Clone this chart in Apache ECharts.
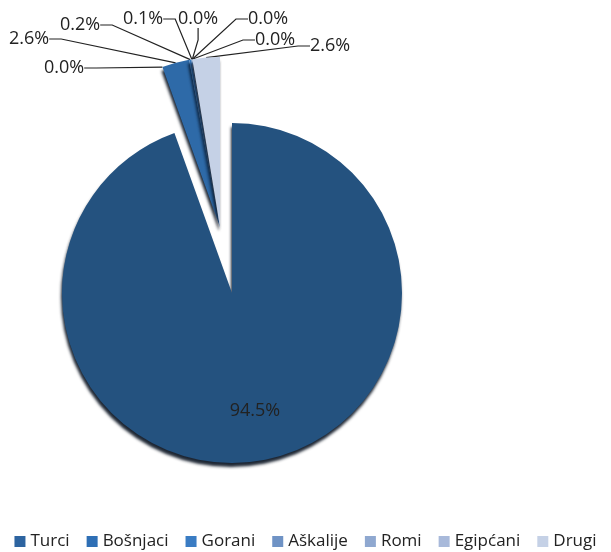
<!DOCTYPE html>
<html>
<head>
<meta charset="utf-8">
<script src="https://cdn.jsdelivr.net/npm/echarts@6/dist/echarts.min.js"></script>
<style>html,body{margin:0;padding:0;background:#fff}#c{width:611px;height:552px}</style>
</head>
<body>
<div id="c"></div>
<script>
var categories = ['Turci','Albanci','Bošnjaci','Gorani','Aškalije','Romi','Egipćani','Srbi','Drugi'];
var values = [94.5, 0.0, 2.6, 0.2, 0.1, 0.0, 0.0, 0.0, 2.6];
var legendNames = ['Turci','Bošnjaci','Gorani','Aškalije','Romi','Egipćani','Drugi'];

var sliceColors = {
  'Turci':'#24527f','Albanci':'#1d3f63','Bošnjaci':'#2e6aa8','Gorani':'#3a7cc3',
  'Aškalije':'#6f93c5','Romi':'#8fa8d0','Egipćani':'#a8b9da','Srbi':'#b8c5e0','Drugi':'#c5d1e6'
};
var legendColors = {
  'Turci':'#2d64a0','Bošnjaci':'#2e6fb5','Gorani':'#3a7cc3','Aškalije':'#6f93c5',
  'Romi':'#8fa8d0','Egipćani':'#a8b9da','Drugi':'#c5d1e6'
};
// label placement (anchor x, middle y, align)
var labelPos = [
  [255,411,'center'],[44,68,'left'],[9,39,'left'],[60,25,'left'],[123,19,'left'],
  [178,19,'left'],[248,19,'left'],[255,40,'left'],[310,46,'left']
];

// the main slice sits on one pie, the exploded small slices on a second pie
// whose centre is pushed out along the small group's bisector
var mainCenter = [232,293];
var explodedCenter = [220,227];
var R = 170;
var FONT = 'Open Sans';

function buildData(showMain){
  return categories.map(function(n,i){
    var visible = showMain ? i === 0 : i > 0;
    return {
      name:n, value:values[i],
      itemStyle: visible ? {color:sliceColors[n]} : {color:sliceColors[n], opacity:0, shadowBlur:0, shadowOffsetX:0, shadowOffsetY:0},
      label: visible ? (i===0 ? {show:true, position:'inside'} : {show:true}) : {show:false},
      labelLine: {show: visible && i>0}
    };
  });
}

var common = {
  type:'pie',
  radius:R,
  startAngle:90,
  clockwise:true,
  avoidLabelOverlap:false,
  silent:true,
  itemStyle:{
    borderWidth:0,
    shadowColor:'rgba(5,15,30,0.9)', shadowBlur:3, shadowOffsetX:-1, shadowOffsetY:4
  },
  label:{
    fontFamily:FONT, fontSize:18, color:'#222',
    formatter:function(p){return p.value.toFixed(1)+'%';}
  },
  labelLine:{length:10, length2:12, lineStyle:{color:'#222', width:1.2}},
  labelLayout:function(p){
    var lp = labelPos[p.dataIndex];
    return {x:lp[0], y:lp[1], align:lp[2], verticalAlign:'middle'};
  },
  emphasis:{disabled:true}
};

var chart = echarts.init(document.getElementById('c'), null, {renderer:'canvas'});
chart.setOption({
  animation:false,
  legend:{
    data: legendNames.map(function(n){
      return {name:n, itemStyle:{color:legendColors[n], opacity:1, shadowBlur:0, shadowOffsetX:0, shadowOffsetY:0}};
    }),
    left:'center', top:528, itemWidth:11, itemHeight:11, itemGap:17,
    icon:'rect', selectedMode:false,
    textStyle:{fontFamily:FONT, fontSize:17, color:'#222'}
  },
  series:[
    Object.assign({}, common, {name:'main', center:mainCenter, data:buildData(true)}),
    Object.assign({}, common, {name:'exploded', center:explodedCenter, data:buildData(false)})
  ]
});
</script>
</body>
</html>
